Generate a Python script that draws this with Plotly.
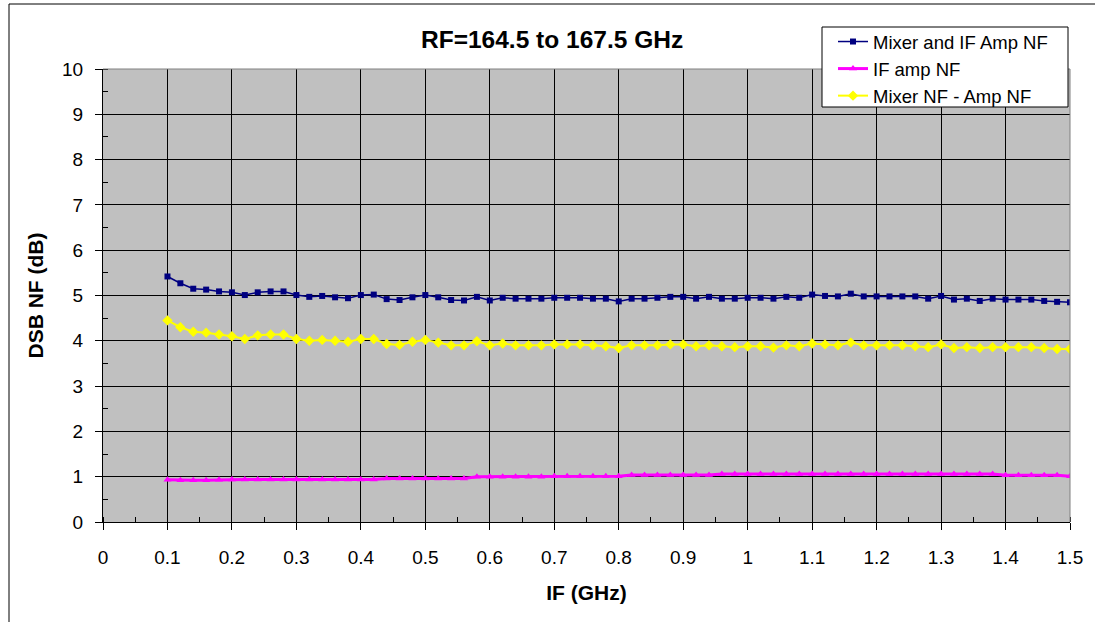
import plotly.graph_objects as go

# IF frequency (GHz)
if_ghz = [0.10, 0.12, 0.14, 0.16, 0.18, 0.20, 0.22, 0.24, 0.26, 0.28,
          0.30, 0.32, 0.34, 0.36, 0.38, 0.40, 0.42, 0.44, 0.46, 0.48,
          0.50, 0.52, 0.54, 0.56, 0.58, 0.60, 0.62, 0.64, 0.66, 0.68,
          0.70, 0.72, 0.74, 0.76, 0.78, 0.80, 0.82, 0.84, 0.86, 0.88,
          0.90, 0.92, 0.94, 0.96, 0.98, 1.00, 1.02, 1.04, 1.06, 1.08,
          1.10, 1.12, 1.14, 1.16, 1.18, 1.20, 1.22, 1.24, 1.26, 1.28,
          1.30, 1.32, 1.34, 1.36, 1.38, 1.40, 1.42, 1.44, 1.46, 1.48,
          1.50]

mixer_if_nf = [5.42, 5.27, 5.15, 5.13, 5.09, 5.07, 5.01, 5.07, 5.09, 5.09,
               5.01, 4.97, 4.99, 4.96, 4.94, 5.01, 5.02, 4.92, 4.90, 4.96,
               5.01, 4.96, 4.90, 4.89, 4.97, 4.89, 4.95, 4.93, 4.93, 4.93,
               4.95, 4.95, 4.95, 4.93, 4.93, 4.87, 4.93, 4.93, 4.95, 4.97,
               4.97, 4.93, 4.97, 4.93, 4.93, 4.95, 4.95, 4.93, 4.97, 4.95,
               5.02, 4.99, 4.98, 5.04, 4.98, 4.98, 4.98, 4.98, 4.98, 4.93,
               4.99, 4.91, 4.93, 4.88, 4.93, 4.91, 4.91, 4.91, 4.88, 4.86,
               4.85]

if_amp_nf = [0.93, 0.92, 0.92, 0.92, 0.93, 0.94, 0.94, 0.94, 0.94, 0.94,
             0.94, 0.94, 0.94, 0.94, 0.94, 0.94, 0.94, 0.96, 0.96, 0.96,
             0.96, 0.96, 0.96, 0.96, 1.00, 1.00, 1.00, 1.00, 1.00, 1.00,
             1.01, 1.01, 1.01, 1.01, 1.01, 1.01, 1.04, 1.04, 1.04, 1.04,
             1.04, 1.04, 1.04, 1.06, 1.06, 1.06, 1.06, 1.06, 1.06, 1.06,
             1.06, 1.06, 1.06, 1.06, 1.06, 1.06, 1.06, 1.06, 1.06, 1.06,
             1.06, 1.06, 1.06, 1.06, 1.06, 1.03, 1.03, 1.03, 1.03, 1.03,
             1.01]

mixer_nf = [4.45, 4.30, 4.20, 4.18, 4.14, 4.10, 4.04, 4.12, 4.14, 4.14,
            4.04, 4.00, 4.02, 4.00, 3.98, 4.04, 4.04, 3.93, 3.91, 3.98,
            4.02, 3.96, 3.90, 3.90, 3.99, 3.90, 3.94, 3.90, 3.90, 3.90,
            3.92, 3.92, 3.92, 3.90, 3.88, 3.84, 3.90, 3.90, 3.90, 3.92,
            3.92, 3.88, 3.90, 3.88, 3.86, 3.88, 3.88, 3.85, 3.90, 3.88,
            3.94, 3.92, 3.90, 3.96, 3.90, 3.90, 3.90, 3.90, 3.88, 3.86,
            3.92, 3.84, 3.86, 3.84, 3.86, 3.86, 3.86, 3.86, 3.84, 3.82,
            3.82]

x_ticks = [0, 0.1, 0.2, 0.3, 0.4, 0.5, 0.6, 0.7, 0.8, 0.9, 1.0, 1.1, 1.2, 1.3, 1.4, 1.5]
x_tick_text = ["0", "0.1", "0.2", "0.3", "0.4", "0.5", "0.6", "0.7", "0.8", "0.9",
               "1", "1.1", "1.2", "1.3", "1.4", "1.5"]
y_ticks = [0, 1, 2, 3, 4, 5, 6, 7, 8, 9, 10]

FONT = "Liberation Sans, Arial, sans-serif"

fig = go.Figure()

fig.add_trace(go.Scatter(
    x=if_ghz, y=mixer_if_nf, name="Mixer and IF Amp NF",
    mode="lines+markers",
    line=dict(color="#000080", width=1.5),
    marker=dict(color="#000080", size=6, symbol="square"),
))
fig.add_trace(go.Scatter(
    x=if_ghz, y=if_amp_nf, name="IF amp NF",
    mode="lines+markers",
    line=dict(color="#FF00FF", width=3),
    marker=dict(color="#FF00FF", size=7, symbol="triangle-up"),
))
fig.add_trace(go.Scatter(
    x=if_ghz, y=mixer_nf, name="Mixer NF - Amp NF",
    mode="lines+markers",
    line=dict(color="#FFFF00", width=2),
    marker=dict(color="#FFFF00", size=8, symbol="diamond"),
))

# plot area occupies px x 103..1070, y 69..522
L, R, T, B = 103, 25, 69, 100
W, H = 1095, 622
pw, ph = W - L - R, H - T - B


def px_x(px):
    return (px - L) / pw


def px_y(py):
    return (H - B - py) / ph


shapes = [
    # outer chart frame (left and top edges visible)
    dict(type="line", xref="paper", yref="paper",
         x0=px_x(9), x1=px_x(9), y0=px_y(640), y1=px_y(4),
         line=dict(color="black", width=1)),
    dict(type="line", xref="paper", yref="paper",
         x0=px_x(9), x1=px_x(1100), y0=px_y(4), y1=px_y(4),
         line=dict(color="black", width=1)),
    # plot area border top/right (gray)
    dict(type="line", xref="paper", yref="paper", layer="above",
         x0=0, x1=1, y0=1, y1=1, line=dict(color="#808080", width=1)),
    dict(type="line", xref="paper", yref="paper", layer="above",
         x0=1, x1=1, y0=0, y1=1, line=dict(color="#808080", width=1)),
    # legend box
    dict(type="rect", xref="paper", yref="paper", layer="above",
         x0=px_x(822), x1=px_x(1068), y0=px_y(107), y1=px_y(27),
         fillcolor="white", line=dict(color="black", width=1)),
]

fig.update_layout(
    width=W, height=H,
    margin=dict(l=L, r=R, t=T, b=B),
    paper_bgcolor="white",
    plot_bgcolor="#C0C0C0",
    font=dict(family=FONT, color="black"),
    showlegend=True,
    legend=dict(
        x=px_x(833), y=px_y(23), xanchor="left", yanchor="top",
        bgcolor="rgba(0,0,0,0)", borderwidth=0,
        font=dict(size=18.5, family=FONT),
        tracegroupgap=0,
    ),
    annotations=[dict(
        text="<b>RF=164.5 to 167.5 GHz</b>", xref="paper", yref="paper",
        x=px_x(552), y=px_y(40), xanchor="center", yanchor="middle",
        showarrow=False, font=dict(size=24.5, family=FONT),
    )],
    shapes=shapes,
    xaxis=dict(
        range=[0, 1.5], tickmode="array", tickvals=x_ticks, ticktext=x_tick_text,
        showgrid=True, gridcolor="black", gridwidth=1,
        zeroline=False, showline=True, linecolor="black", linewidth=1,
        ticks="outside", ticklen=7, tickcolor="black",
        minor=dict(dtick=0.05, tick0=0, ticks="inside", ticklen=5,
                   tickcolor="black", showgrid=False),
        tickfont=dict(size=19, family=FONT),
        ticklabelstandoff=11,
        title=dict(text="<b>IF (GHz)</b>", font=dict(size=21, family=FONT), standoff=18),
        automargin=False,
    ),
    yaxis=dict(
        range=[0, 10], tickmode="array", tickvals=y_ticks,
        showgrid=True, gridcolor="black", gridwidth=1,
        zeroline=False, showline=True, linecolor="black", linewidth=1,
        ticks="outside", ticklen=7, tickcolor="black",
        minor=dict(dtick=0.5, tick0=0, ticks="inside", ticklen=5,
                   tickcolor="black", showgrid=False),
        tickfont=dict(size=19, family=FONT),
        ticklabelstandoff=8,
        title=dict(text="<b>DSB NF (dB)</b>", font=dict(size=21, family=FONT), standoff=12),
        automargin=False,
    ),
)

fig.write_html("out.html", config={"displayModeBar": False},
               post_script="document.body.style.margin='0';"
                           "document.documentElement.style.overflow='hidden';")
